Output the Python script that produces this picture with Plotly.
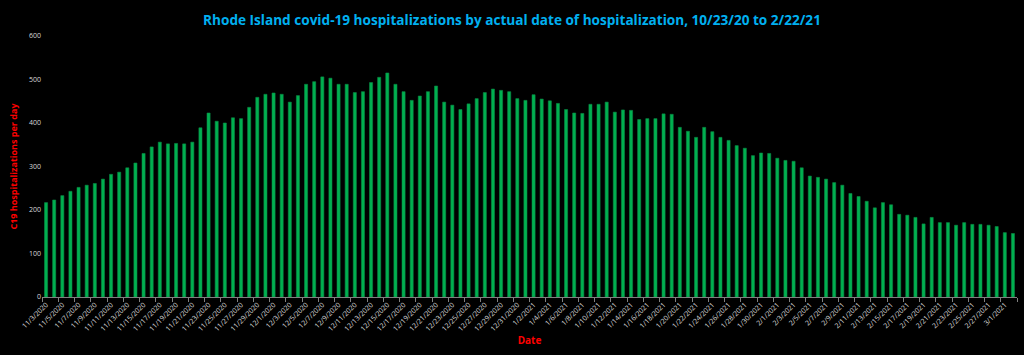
import pandas as pd
import plotly.graph_objects as go

# Categories: daily dates 11/3/2020 .. 3/2/2021
dates = pd.date_range("2020-11-03", "2021-03-02", freq="D")
categories = [f"{d.month}/{d.day}/{d.year}" for d in dates]

hospitalizations = [
    217, 223, 233, 243, 252, 257, 261, 271, 282, 287,
    297, 308, 330, 345, 356, 352, 353, 352, 356, 389,
    423, 404, 400, 412, 410, 436, 459, 466, 469, 466,
    448, 463, 489, 495, 506, 503, 489, 489, 470, 472,
    493, 505, 515, 489, 472, 452, 462, 472, 485, 448,
    441, 431, 444, 456, 470, 478, 475, 472, 456, 452,
    465, 455, 451, 445, 431, 423, 422, 443, 443, 448,
    425, 430, 429, 408, 410, 410, 421, 420, 390, 381,
    367, 390, 380, 367, 360, 348, 342, 325, 331, 330,
    319, 314, 312, 297, 278, 275, 271, 263, 257, 238,
    231, 220, 205, 217, 212, 190, 188, 183, 168, 183,
    171, 171, 165, 171, 167, 167, 165, 162, 148, 146,
]

title_text = "Rhode Island covid-19 hospitalizations by actual date of hospitalization, 10/23/20 to 2/22/21"
y_title = "C19 hospitalizations per day"
x_title = "Date"

FONT = "Open Sans, sans-serif"

fig = go.Figure(
    go.Bar(
        x=categories,
        y=hospitalizations,
        marker=dict(color="#00b050", line=dict(color="#0a8a45", width=0.6)),
        hoverinfo="x+y",
    )
)

fig.update_layout(
    width=1024,
    height=355,
    paper_bgcolor="#000000",
    plot_bgcolor="#000000",
    margin=dict(l=42, r=7, t=36, b=58),
    bargap=0.62,
    showlegend=False,
    font=dict(family=FONT, color="#d9d9d9"),
    title=dict(
        text="<b>" + title_text + "</b>",
        x=0.5,
        xanchor="center",
        y=1 - 20 / 355,
        yanchor="middle",
        yref="container",
        font=dict(family=FONT, size=13.6, color="#00b0f0"),
    ),
)

fig.update_xaxes(
    type="category",
    tickmode="linear",
    tick0=0,
    dtick=2,
    tickson="boundaries",
    ticks="outside",
    ticklen=4,
    tickcolor="#808080",
    tickangle=-45,
    tickfont=dict(size=7, color="#d9d9d9"),
    showline=True,
    linecolor="#808080",
    linewidth=1,
    showgrid=False,
    zeroline=False,
    automargin=False,
    title=dict(text="<b>" + x_title + "</b>", font=dict(size=10, color="#ff0000"), standoff=4),
)

fig.update_yaxes(
    range=[0, 600],
    tickmode="linear",
    tick0=0,
    dtick=100,
    tickfont=dict(size=7, color="#d9d9d9"),
    showline=False,
    showgrid=False,
    zeroline=False,
    ticks="",
    automargin=False,
    title=dict(text="<b>" + y_title + "</b>", font=dict(size=9, color="#ff0000"), standoff=9),
)

fig.write_html(
    "out.html",
    config={"displayModeBar": False},
    post_script="document.body.style.margin='0';",
)
